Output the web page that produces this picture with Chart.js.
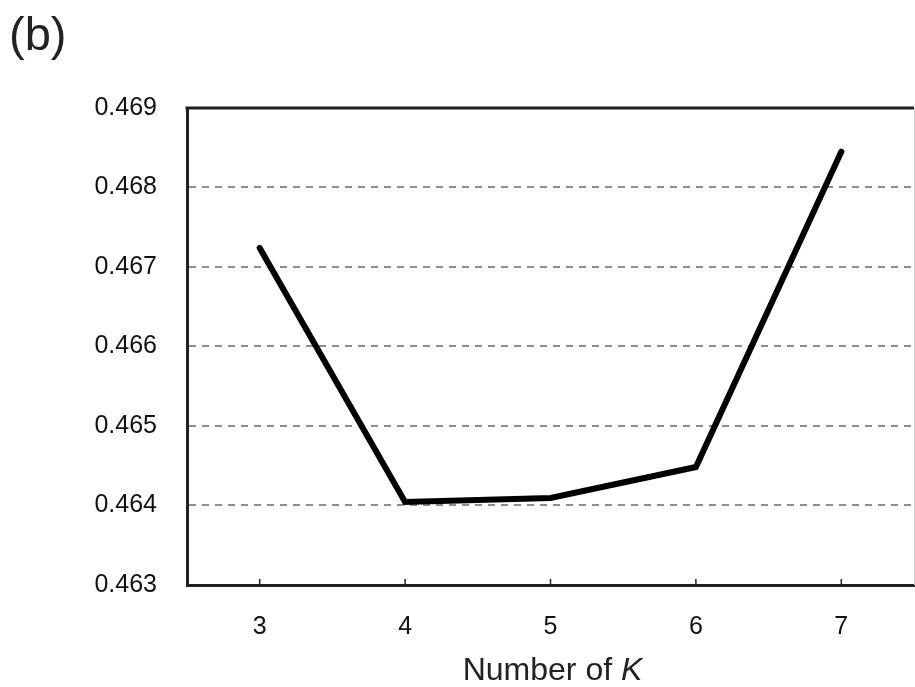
<!DOCTYPE html>
<html>
<head>
<meta charset="utf-8">
<script src="https://cdn.jsdelivr.net/npm/chart.js@4.4.0/dist/chart.umd.min.js"></script>
<style>
    html, body { margin: 0; padding: 0; background: #fff; }
    #wrap { position: relative; width: 915px; height: 687px; }
</style>
</head>
<body>
<div id="wrap"><canvas id="chart" width="915" height="687"></canvas></div>
<script>
// data
const categories = ['3', '4', '5', '6', '7'];
const scoreValues = [0.46724, 0.464044, 0.464094, 0.464484, 0.46845];
const yTicks = [0.463, 0.464, 0.465, 0.466, 0.467, 0.468, 0.469];

const FONT = "'Liberation Sans', Arial, Helvetica, sans-serif";

// panel label, axis title with italic K, box edges and inner x tick marks
const decorations = {
    id: 'decorations',
    afterDraw(chart) {
        const { ctx, chartArea: a, scales } = chart;
        ctx.save();

        // top border and right edge
        ctx.strokeStyle = '#222';
        ctx.lineWidth = 3;
        ctx.beginPath();
        ctx.moveTo(a.left - 1.5, a.top);
        ctx.lineTo(a.right, a.top);
        ctx.stroke();
        ctx.strokeStyle = '#ccc';
        ctx.lineWidth = 1;
        ctx.beginPath();
        ctx.moveTo(a.right + 0.5, a.top);
        ctx.lineTo(a.right + 0.5, a.bottom);
        ctx.stroke();

        // small ticks pointing up from the x axis
        ctx.strokeStyle = '#222';
        ctx.lineWidth = 1.5;
        categories.forEach((c, i) => {
            const x = scales.x.getPixelForValue(i);
            ctx.beginPath();
            ctx.moveTo(x, a.bottom);
            ctx.lineTo(x, a.bottom - 6);
            ctx.stroke();
        });

        // (b)
        ctx.fillStyle = '#222';
        ctx.textBaseline = 'alphabetic';
        ctx.textAlign = 'left';
        ctx.font = '47px ' + FONT;
        ctx.fillText('(b)', 9, 50);

        // Number of K
        ctx.font = '32px ' + FONT;
        const part1 = 'Number of ';
        const w1 = ctx.measureText(part1).width;
        ctx.font = 'italic 32px ' + FONT;
        const w2 = ctx.measureText('K').width;
        const cx = (a.left + a.right) / 2 + 2;
        const x0 = cx - (w1 + w2) / 2;
        ctx.font = '32px ' + FONT;
        ctx.fillText(part1, x0, 680);
        ctx.font = 'italic 32px ' + FONT;
        ctx.fillText('K', x0 + w1, 680);

        ctx.restore();
    }
};

const ctx = document.getElementById('chart');
new Chart(ctx, {
    type: 'line',
    data: {
        labels: categories,
        datasets: [{
            data: scoreValues,
            borderColor: '#000',
            borderWidth: 6,
            tension: 0,
            pointRadius: 0,
            borderCapStyle: 'round',
            borderJoinStyle: 'miter',
            fill: false
        }]
    },
    options: {
        responsive: false,
        animation: false,
        layout: { padding: { top: 108, right: 1, left: 0, bottom: 0 } },
        plugins: {
            legend: { display: false },
            tooltip: { enabled: false }
        },
        scales: {
            x: {
                type: 'category',
                offset: true,
                grid: { display: false, drawTicks: false },
                border: { display: true, color: '#222', width: 3 },
                ticks: {
                    color: '#111',
                    font: { family: FONT, size: 25 },
                    padding: 27,
                    maxRotation: 0
                },
                afterFit(scale) { scale.height = 102; }
            },
            y: {
                min: yTicks[0],
                max: yTicks[yTicks.length - 1],
                afterBuildTicks(scale) {
                    scale.ticks = yTicks.map(v => ({ value: v }));
                },
                grid: {
                    drawTicks: false,
                    color: (c) => (c.tick && (c.tick.value === yTicks[0] || c.tick.value === yTicks[yTicks.length - 1])) ? 'rgba(0,0,0,0)' : '#8e8e8e',
                    lineWidth: 2
                },
                border: { display: true, color: '#222', width: 3, dash: [7, 6] },
                ticks: {
                    color: '#111',
                    font: { family: FONT, size: 25 },
                    padding: 30,
                    callback: (v) => Number(v).toFixed(3)
                },
                afterFit(scale) { scale.width = 187; }
            }
        }
    },
    plugins: [decorations]
});
</script>
</body>
</html>
